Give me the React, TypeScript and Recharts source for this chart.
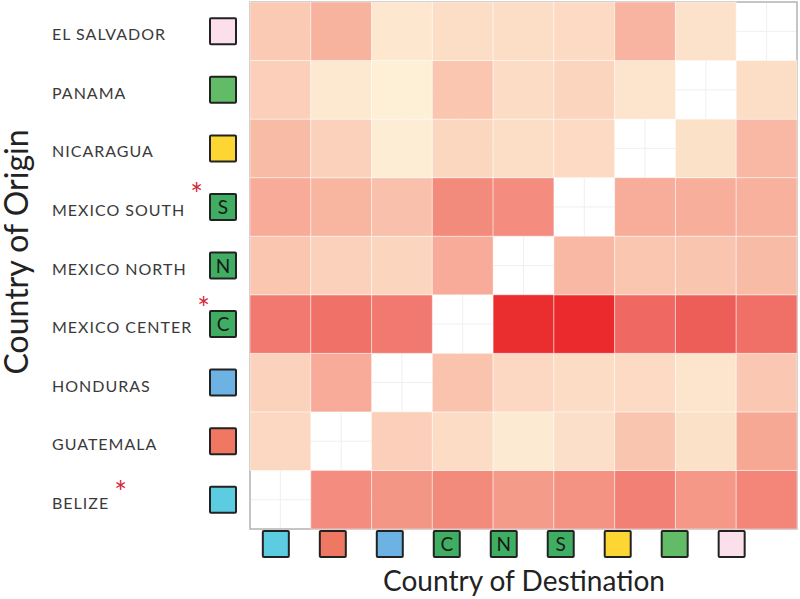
import React from 'react'
import { ScatterChart, Scatter, XAxis, YAxis, CartesianGrid, ReferenceArea } from 'recharts'

// countries, same order on both axes (bottom-to-top for origin, left-to-right for destination)
const COUNTRIES = ['BELIZE', 'GUATEMALA', 'HONDURAS', 'MEXICO CENTER', 'MEXICO NORTH', 'MEXICO SOUTH', 'NICARAGUA', 'PANAMA', 'EL SALVADOR']
const CODES = ['', '', '', 'C', 'N', 'S', '', '', '']
const FLAG_COLORS = ['#5ccde0', '#f07862', '#6cb2e2', '#3fae62', '#3fae62', '#3fae62', '#fdd633', '#62bb66', '#fbe0ec']
const STARRED = ['BELIZE', 'MEXICO CENTER', 'MEXICO SOUTH']

// flow intensity, one array per origin, columns follow COUNTRIES
const FROM_BELIZE = [null, 54, 51, 55, 49, 52, 59, 50, 57]
const FROM_GUATEMALA = [17, null, 22, 15, 6, 13, 28, 12, 44]
const FROM_HONDURAS = [20, 42, null, 29, 17, 15, 16, 9, 26]
const FROM_MEXICO_CENTER = [62, 66, 62, null, 98, 100, 70, 75, 67]
const FROM_MEXICO_NORTH = [27, 21, 19, 42, null, 35, 27, 28, 33]
const FROM_MEXICO_SOUTH = [42, 36, 30, 55, 54, null, 41, 40, 39]
const FROM_NICARAGUA = [33, 21, 4, 18, 14, 16, null, 12, 35]
const FROM_PANAMA = [22, 7, 2, 27, 15, 19, 10, null, 14]
const FROM_EL_SALVADOR = [25, 38, 8, 14, 14, 16, 37, 11, null]

const ROWS = [FROM_BELIZE, FROM_GUATEMALA, FROM_HONDURAS, FROM_MEXICO_CENTER, FROM_MEXICO_NORTH, FROM_MEXICO_SOUTH, FROM_NICARAGUA, FROM_PANAMA, FROM_EL_SALVADOR]

const cells = ROWS.flatMap((row, r) =>
  row.map((v, c) => ({ x: c + 0.5, y: r + 0.5, v }))
).filter((d) => d.v !== null)

const TICKS = COUNTRIES.map((_, i) => i + 0.5)

const STOPS: [number, number[]][] = [
  [0, [254, 243, 218]],
  [15, [252, 220, 197]],
  [30, [249, 193, 171]],
  [45, [246, 166, 147]],
  [60, [242, 125, 114]],
  [75, [238, 94, 88]],
  [100, [234, 42, 44]],
]

function colorFor(v: number) {
  for (let i = 1; i < STOPS.length; i++) {
    const [v1, c1] = STOPS[i]
    const [v0, c0] = STOPS[i - 1]
    if (v <= v1) {
      const t = (v - v0) / (v1 - v0)
      const c = c0.map((a, k) => Math.round(a + (c1[k] - a) * t))
      return `rgb(${c[0]},${c[1]},${c[2]})`
    }
  }
  return 'rgb(234,42,44)'
}

const W = 800
const H = 599
const MARGIN = { top: 2, right: 3, bottom: 0, left: 0 }
const Y_AXIS_W = 250
const X_AXIS_H = 70
const CELL_W = (W - MARGIN.left - MARGIN.right - Y_AXIS_W) / COUNTRIES.length
const CELL_H = (H - MARGIN.top - MARGIN.bottom - X_AXIS_H) / COUNTRIES.length
const FONT = 'Lato, "Open Sans", sans-serif'

function Cell(props: any) {
  const { cx, cy, payload } = props
  return (
    <rect
      x={cx - CELL_W / 2}
      y={cy - CELL_H / 2}
      width={CELL_W}
      height={CELL_H}
      fill={colorFor(payload.v)}
      stroke="rgba(255,255,255,0.45)"
      strokeWidth={1}
    />
  )
}

function Flag({ x, y, i }: { x: number; y: number; i: number }) {
  return (
    <g>
      <rect x={x - 13} y={y - 13} width={26} height={26} fill={FLAG_COLORS[i]} stroke="#222" strokeWidth={2} rx={1} />
      {CODES[i] && (
        <text x={x} y={y + 7} textAnchor="middle" fontSize={19} fontFamily={FONT} fill="#1a1a1a">
          {CODES[i]}
        </text>
      )}
    </g>
  )
}

const STAR_DY: Record<string, number> = { 'MEXICO CENTER': -14, 'MEXICO SOUTH': -11, BELIZE: -6 }

function OriginTick(props: any) {
  const { y, payload } = props
  const i = Math.round(payload.value - 0.5)
  const name = COUNTRIES[i]
  const star = STARRED.includes(name)
  return (
    <g>
      <text x={52} y={y + 9} fontSize={16} fontFamily={FONT} fill="#3a3a3a" letterSpacing={1}>
        {name}
        {star && (
          <tspan dx={5} dy={STAR_DY[name]} fontSize={30} fill="#d8283c" letterSpacing={0}>*</tspan>
        )}
      </text>
      <Flag x={223} y={y} i={i} />
    </g>
  )
}

function DestTick(props: any) {
  const { x, payload } = props
  const i = Math.round(payload.value - 0.5)
  // flags in the bottom row sit slightly tighter than the columns
  const fx = 503.75 + (x - 523.5) * 0.9375
  return <Flag x={fx} y={544} i={i} />
}

export default function App() {
  return (
    <div style={{ position: 'absolute', left: 0, top: 0, width: W, height: H, background: '#fff' }}>
      <ScatterChart width={W} height={H} margin={MARGIN}>
        <CartesianGrid stroke="#efefef" />
        <XAxis
          type="number"
          dataKey="x"
          domain={[0, 9]}
          ticks={TICKS}
          height={X_AXIS_H}
          tick={<DestTick />}
          tickLine={false}
          axisLine={false}
          interval={0}
        />
        <YAxis
          type="number"
          dataKey="y"
          domain={[0, 9]}
          ticks={TICKS}
          width={Y_AXIS_W}
          tick={<OriginTick />}
          tickLine={false}
          axisLine={false}
          interval={0}
        />
        <Scatter data={cells} shape={<Cell />} isAnimationActive={false} />
        <ReferenceArea x1={0} x2={9} y1={0} y2={9} fill="none" stroke="#b5b5b5" strokeWidth={1.5} />
      </ScatterChart>
      <svg width={50} height={H} style={{ position: 'absolute', left: 0, top: 0 }}>
        <text
          x={0}
          y={0}
          transform="translate(28 252) rotate(-90)"
          textAnchor="middle"
          fontFamily={FONT}
          fontSize={32}
          fill="#222"
        >
          Country of Origin
        </text>
      </svg>
      <div
        style={{
          position: 'absolute',
          left: 524,
          top: 580,
          transform: 'translate(-50%, -50%)',
          whiteSpace: 'nowrap',
          fontFamily: FONT,
          fontSize: 28,
          color: '#222',
        }}
      >
        Country of Destination
      </div>
    </div>
  )
}
